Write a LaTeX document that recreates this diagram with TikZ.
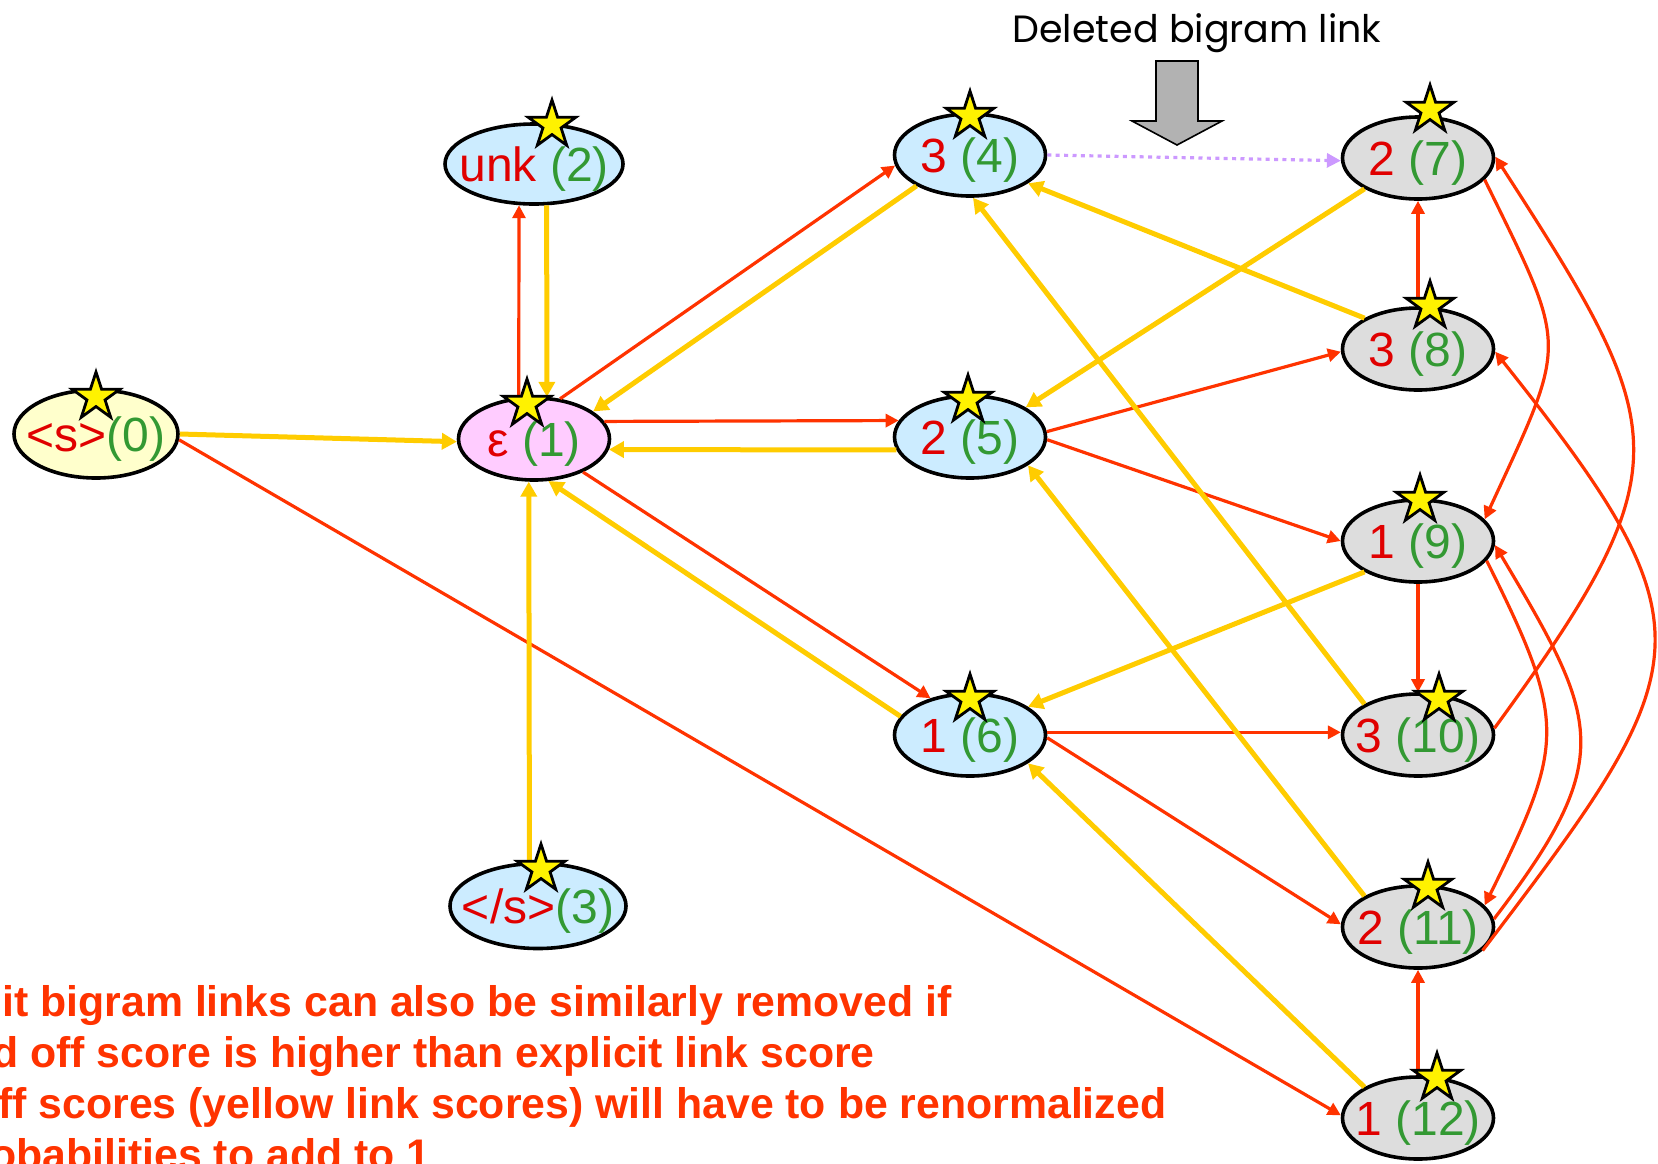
\documentclass[tikz,border=0pt]{standalone}
\usepackage{fontspec}
\setmainfont{Liberation Sans}
\newfontfamily\comicfont{Poppins}
\usetikzlibrary{shapes.geometric,arrows.meta}

\definecolor{rotpfeil}{HTML}{FF3300}
\definecolor{gelbpfeil}{HTML}{FFCC00}
\definecolor{lila}{HTML}{CC99FF}
\definecolor{wortrot}{HTML}{E00000}
\definecolor{nrgruen}{HTML}{339933}
\definecolor{hellgelb}{HTML}{FFFFCC}
\definecolor{rosa}{HTML}{FFCCFF}
\definecolor{hellblau}{HTML}{CCECFF}
\definecolor{hellgrau}{HTML}{DDDDDD}
\definecolor{pfeilgrau}{HTML}{B2B2B2}

\newcommand{\zust}[2]{\makebox[0pt][c]{\textcolor{wortrot}{#1}\textcolor{nrgruen}{#2}}}

\tikzset{
	zustand/.style={ellipse,draw,line width=1.8pt,inner sep=0pt,minimum width=75.5pt,minimum height=41pt,text height=17pt,text depth=0pt,font=\fontsize{24}{28}\selectfont},
	stern/.style={star,star points=5,star point ratio=2.618,minimum size=25pt,inner sep=0pt,fill=yellow,draw=black,line width=1.4pt},
	rotlink/.style={rotpfeil,line width=1.6pt,-{Triangle[length=6.5pt,width=6.5pt]}},
	gelblink/.style={gelbpfeil,line width=2.5pt,-{Triangle[length=7.5pt,width=8pt]}},
	hinweis/.style={anchor=base west,inner sep=0pt,text=rotpfeil,font=\fontsize{21.4}{25}\selectfont\bfseries},
}

\begin{document}
\begin{tikzpicture}[x=0.5pt,y=-0.5pt]
	\useasboundingbox (0,0) rectangle (1658,1163);
%%% Zustaende links und Mitte
	\node[zustand,fill=hellgelb,minimum width=82pt,minimum height=44pt] (n0) at (96,434) {\zust{<s>}{(0)}};
	\node[zustand,fill=rosa] (n1) at (534,439) {\zust{ε}{\ (1)}};
	\node[zustand,fill=hellblau,minimum width=89pt,minimum height=40pt] (n2) at (534,164) {\zust{unk}{\ (2)}};
	\node[zustand,fill=hellblau,minimum width=88pt,minimum height=42.5pt] (n3) at (538,906) {\zust{</s>}{(3)}};
	\foreach \n/\y/\w in {4/155/3,5/437/2,6/735/1}{
		\node[zustand,fill=hellblau] (n\n) at (970,\y) {\zust{\w}{\ (\n)}};
	}
%%% Zustaende rechts (Trigramme)
	\foreach \n/\y/\w in {7/158/2,8/349/3,9/541/1,10/735/3,11/927/2,12/1118/1}{
		\node[zustand,fill=hellgrau] (n\n) at (1418,\y) {\zust{\w}{\ (\n)}};
	}
%%% explizite Bigramm-Links (rot)
	\foreach \a/\b in {n1.110/n2.250,n1.57/n4.188,n1.14/n5.167,n1.326/n6.137,n0.356/n12.178,
		n5.4/n8.182,n5.358/n9.180,n6.2/n10.178,n6.358/n11.178,
		n8.90/n7.270,n9.270/n10.90,n12.90/n11.270}{
		\draw[rotlink] (\a) -- (\b);
	}
	\draw[rotlink] (n7.342) .. controls +(84,172) and +(84,-182) .. (n9.18);
	\draw[rotlink] (n10.5) .. controls +(192,-263) and +(176,273) .. (n7.1);
	\draw[rotlink] (n9.344) .. controls +(81,162) and +(80,-162) .. (n11.18);
	\draw[rotlink] (n11.6) .. controls +(124,-162) and +(104,175) .. (n9.357);
	\draw[rotlink] (n11.340) .. controls +(218,-286) and +(222,279) .. (n8.358);
%%% Backoff-Links (gelb)
	\foreach \a/\b in {n0.0/n1.182,n2.287/n1.73,n3.101/n1.263,n4.210/n1.25,n5.190/n1.352,n6.165/n1.289,
		n7.210/n5.28,n8.150/n4.334,n9.210/n6.26,n10.150/n4.274,n11.150/n5.334,n12.150/n6.334}{
		\draw[gelblink] (\a) -- (\b);
	}
%%% geloeschter Link
	\draw[lila,line width=1.6pt,dash pattern=on 2pt off 2.2pt,-{Triangle[length=7pt,width=7pt]}] (n4.0) -- (n7.182);
	\draw[fill=pfeilgrau,line width=0.8pt] (1156,61) -- (1198,61) -- (1198,121) -- (1222,121) -- (1177,145) -- (1132,121) -- (1156,121) -- cycle;
	\node[anchor=base,inner sep=0pt,font=\comicfont\fontsize{19}{19}\selectfont] (geloescht) at (1197,42) {Deleted bigram link};
%%% Sterne
	\foreach \n/\dx/\dy in {0/0/-37,1/-7/-35,2/18/-39,3/3/-37,4/0/-39,5/-2/-37,6/0/-36,
		7/12/-48,8/12/-43,9/2/-41,10/21/-36,11/10/-40,12/19/-40}{
		\node[stern] (s\n) at ([shift={(\dx,\dy)}]n\n.center) {};
	}
%%% Text unten
	\node[hinweis] (zeile1) at (2,1016) {it bigram links can also be similarly removed if};
	\node[hinweis] (zeile2) at (-8,1067) {d off score is higher than explicit link score};
	\node[hinweis] (zeile3) at (-2,1118) {ff scores (yellow link scores) will have to be renormalized};
	\node[hinweis] (zeile4) at (-10,1169) {obabilities to add to 1};
\end{tikzpicture}
\end{document}
